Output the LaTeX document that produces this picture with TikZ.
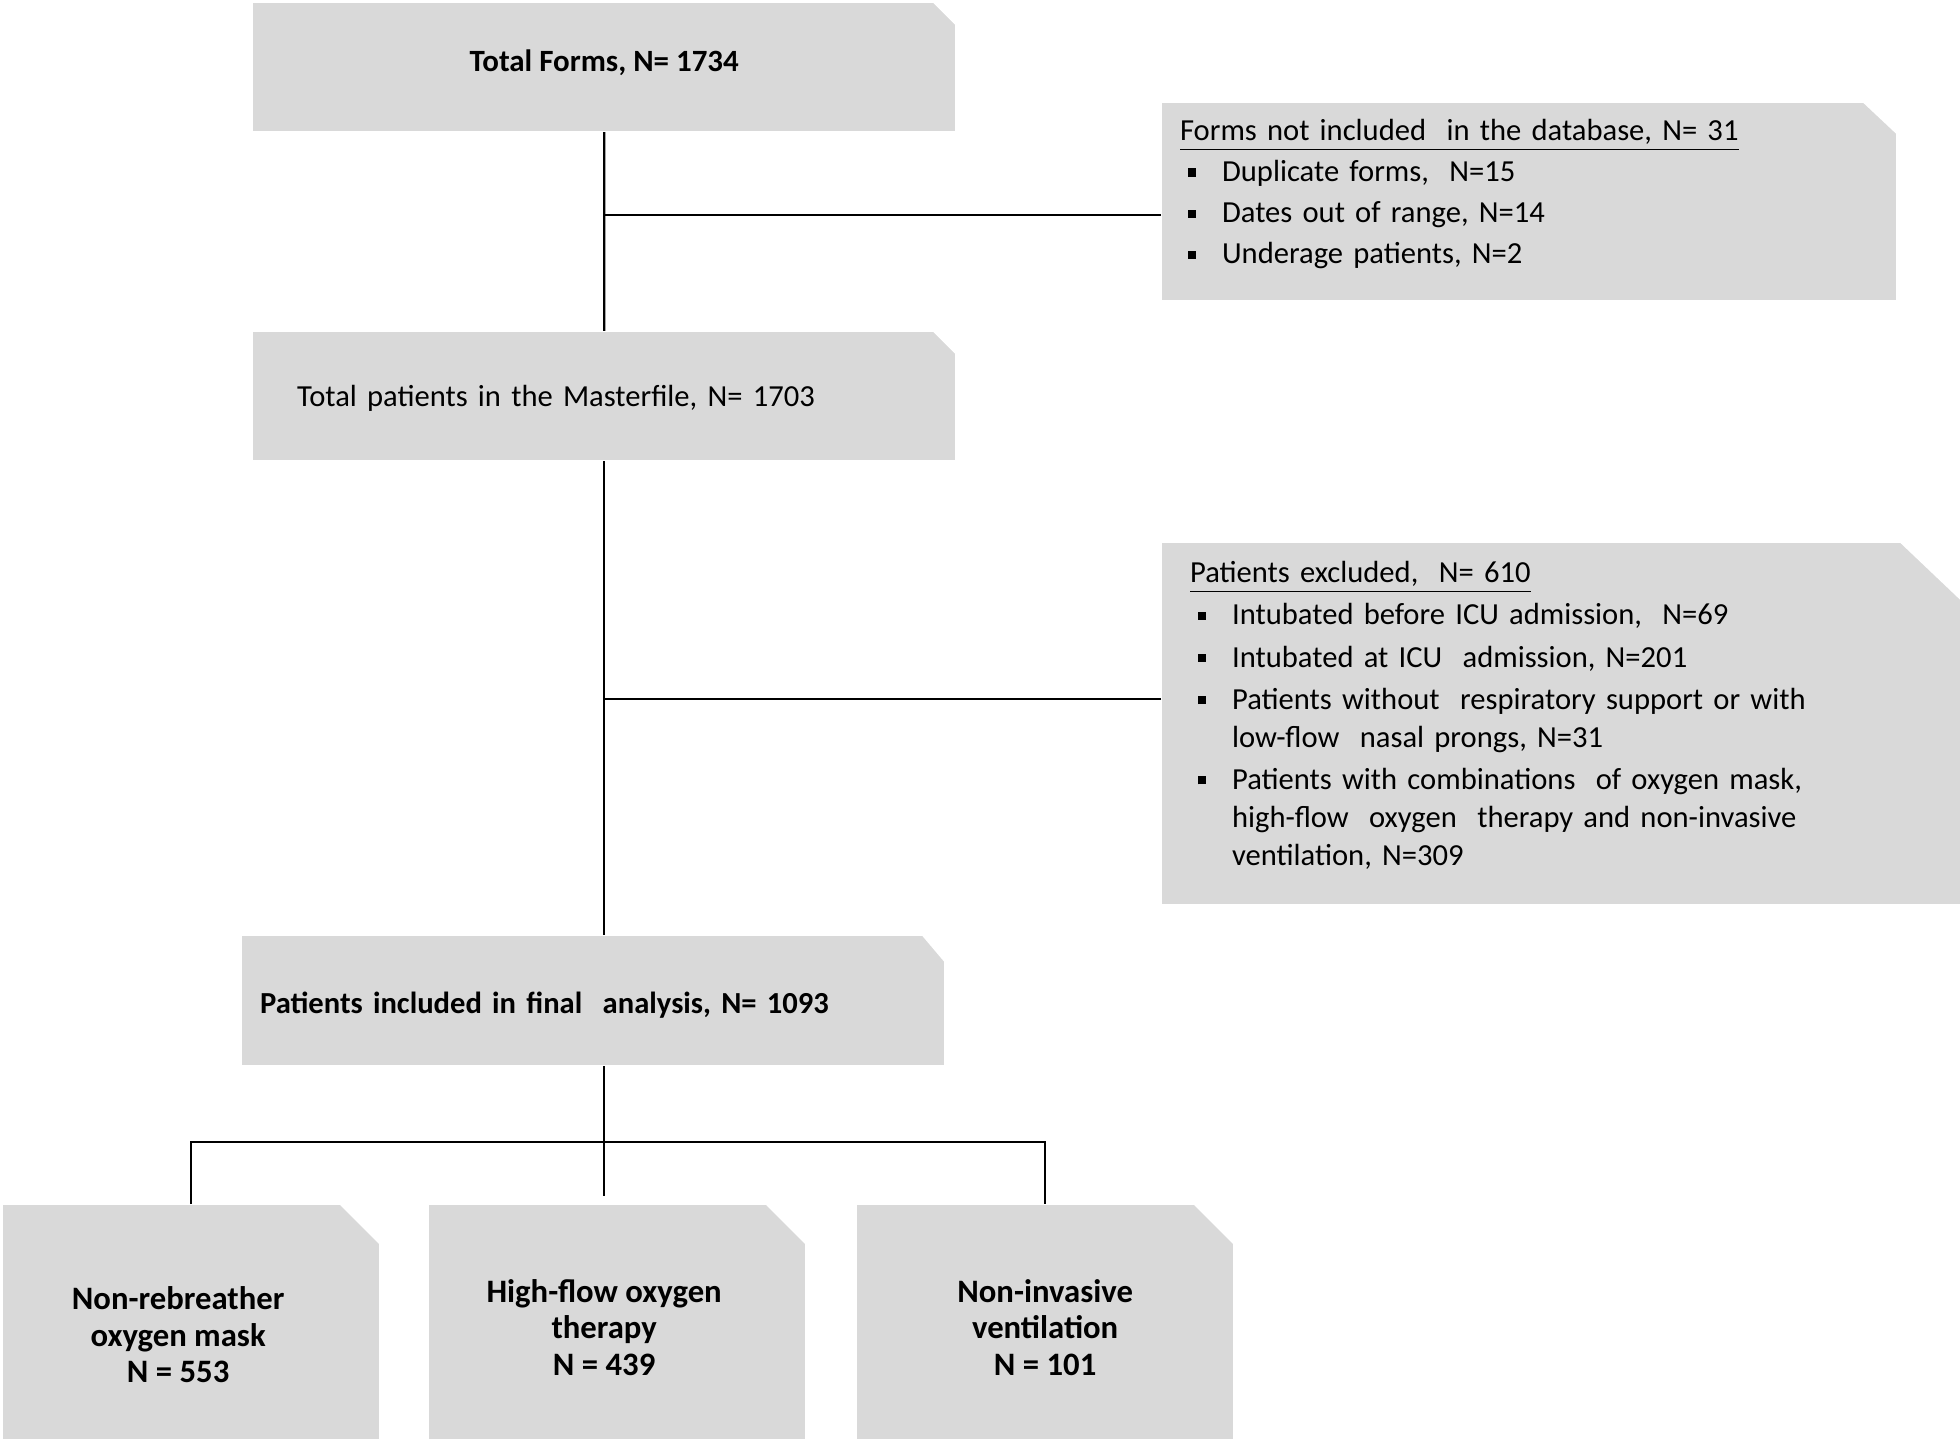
\documentclass[tikz,border=0pt]{standalone}
\usepackage{fontspec}
\setmainfont{Carlito}
\usepackage{tikz}

\definecolor{boxgray}{RGB}{217,217,217}
\newcommand{\bul}{\hspace*{0.08cm}\makebox[0.34cm][l]{\rule[0.35ex]{2.3pt}{2.3pt}}}
\newcommand{\ind}{\hspace*{0.42cm}}
\newcommand{\rsp}{\makebox[0.26cm]{}}

\begin{document}
\begin{tikzpicture}[x=0.01cm,y=-0.01cm,line width=0.6pt,
  every node/.style={font=\fontsize{8.7pt}{11.7pt}\selectfont},
  snipbox/.style 2 args={rectangle,anchor=north west,fill=boxgray,inner sep=0pt,
    path picture={\fill[white] ([xshift=-#1]path picture bounding box.north east)
      -- ([xshift=1pt,yshift=1pt]path picture bounding box.north east)
      -- ([yshift=-#2]path picture bounding box.north east) -- cycle;}},
  armbox/.style={snipbox={0.39cm}{0.39cm},minimum width=3.76cm,minimum height=2.34cm,
    align=center,font=\fontsize{9.3pt}{10.3pt}\selectfont\bfseries}]
  \useasboundingbox (0,0) rectangle (1960,1440);

  \node[snipbox={0.22cm}{0.22cm},minimum width=7.02cm,minimum height=1.28cm,text depth=3.5pt,font=\fontsize{8.8pt}{11.7pt}\selectfont\bfseries] (forms) at (252,2) {Total Forms, N= 1734};
  \node[snipbox={0.33cm}{0.31cm},minimum height=1.97cm,inner xsep=0.18cm,text width=6.98cm,align=left] (notincl) at (1161,102)
    {\underline{Forms not included\ \ in the database, N= 31}\\
     \bul Duplicate forms,\ \ N=15\\
     \bul Dates out of range, N=14\\
     \bul Underage patients, N=2\\[-6pt]\mbox{}};
  \node[snipbox={0.22cm}{0.22cm},minimum height=1.28cm,inner xsep=0.44cm,text width=6.14cm,align=left,text depth=0pt] (master) at (252,331)
    {Total patients in the Masterfile, N= 1703};
  \node[snipbox={0.61cm}{0.58cm},minimum height=3.61cm,inner xsep=0.28cm,text width=7.43cm,align=left,font=\fontsize{8.7pt}{10.8pt}\selectfont] (excl) at (1161,542)
    {\underline{Patients excluded,\ \ N= 610}\\[1.2pt]
     \bul Intubated before ICU admission,\ \ N=69\\[1.2pt]
     \bul Intubated at ICU\ \ admission, N=201\\[1.2pt]
     \bul Patients without\ \ respiratory support or with\\
     \ind low-flow\ \ nasal prongs, N=31\\[1.2pt]
     \bul Patients with combinations\ \ of oxygen mask,\\
     \ind high-flow\ \ oxygen\ \ therapy and non-invasive\\
     \ind ventilation, N=309\\[-5pt]\mbox{}};
  \node[snipbox={0.22cm}{0.26cm},minimum height=1.29cm,inner xsep=0.18cm,text width=6.66cm,align=left,text height=7.5pt,text depth=0pt,font=\fontsize{8.7pt}{11.7pt}\selectfont\bfseries] (incl) at (241,935)
    {Patients included in final\ \ analysis, N= 1093};

  \node[armbox] (nrb) at (2,1204) {\\[3.4pt]Non-rebreather\rsp\\oxygen mask\rsp\\N = 553\rsp};
  \node[armbox] (hfo) at (428,1204) {\\[-0.7pt]High-flow oxygen\rsp\\therapy\rsp\\N = 439\rsp};
  \node[armbox] (niv) at (856,1204) {\\[-0.7pt]Non-invasive\\ventilation\\N = 101};

  % connectors
  \coordinate (j1) at ([yshift=-0.13cm]notincl.west);
  \coordinate (j2) at ([yshift=0.25cm]excl.west);
  \coordinate (split) at ([yshift=0.62cm]hfo.north);
  \draw (forms.south) -- (master.north);
  \draw (j1) -- (forms.south |- j1);
  \draw (master.south) -- (master.south |- incl.north);
  \draw (j2) -- (master.south |- j2);
  \draw (master.south |- incl.south) -- ([yshift=0.08cm]master.south |- hfo.north);
  \draw (nrb.north) -- (nrb.north |- split) -- (niv.north |- split) -- (niv.north);
\end{tikzpicture}
\end{document}
